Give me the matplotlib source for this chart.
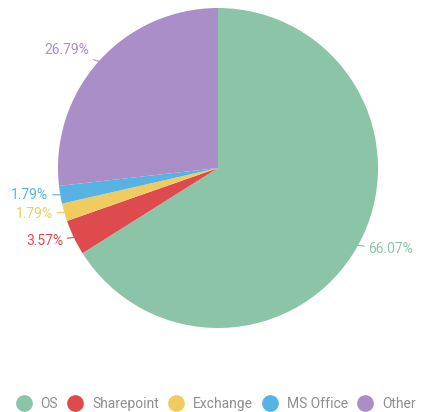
"""Pie chart of share by product, labels in slice colours, legend along the bottom."""

import numpy as np
import matplotlib

matplotlib.use("Agg")

import matplotlib.pyplot as plt
from matplotlib.lines import Line2D

categories = ["OS", "Sharepoint", "Exchange", "MS Office", "Other"]
shares = [66.07, 3.57, 1.79, 1.79, 26.79]
colors = ["#8cc4a8", "#de4b4e", "#f0cc60", "#56b3e4", "#a98ec8"]

plt.rcParams["font.family"] = ["Roboto", "DejaVu Sans"]

W, H = 431, 412
fig = plt.figure(figsize=(W / 100, H / 100), dpi=100)
# square axes holding the pie: centre (218, 168) px, radius 160 px
cx, cy, r = 218, 168, 160
ax = fig.add_axes([(cx - r) / W, (H - cy - r) / H, 2 * r / W, 2 * r / H])

wedges, _ = ax.pie(shares, colors=colors, startangle=90, counterclock=False,
                   radius=1.0, wedgeprops=dict(linewidth=0))
ax.set_xlim(-1, 1)
ax.set_ylim(-1, 1)
ax.set_aspect("equal")
ax.axis("off")

for w, val, col in zip(wedges, shares, colors):
    mid = np.deg2rad((w.theta1 + w.theta2) / 2)
    dx, dy = np.cos(mid), np.sin(mid)
    ha = "left" if dx > 0 else "right"
    ax.annotate(f"{val:.2f}%", xy=(dx * 1.0, dy * 1.0),
                xytext=(dx * 1.075, dy * 1.08 + 0.015),
                ha=ha, va="center", fontsize=10, color=col,
                arrowprops=dict(arrowstyle="-", color=col, lw=0.8,
                                shrinkA=1, shrinkB=0),
                annotation_clip=False)

handles = [Line2D([], [], marker="o", linestyle="", markersize=11,
                  markerfacecolor=c, markeredgecolor=c) for c in colors]
fig.legend(handles, categories, loc="center", bbox_to_anchor=(0.5, 1 - 404 / H),
           ncol=5, frameon=False, fontsize=10, labelcolor="#8f8f8f",
           handletextpad=0.6, columnspacing=0.65, handlelength=1.2)

fig.savefig("out.png", dpi=100)
